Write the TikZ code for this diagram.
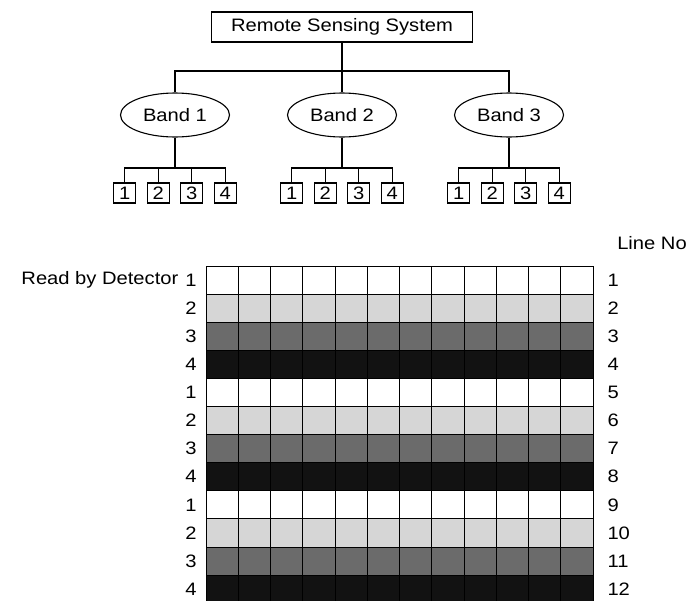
\documentclass[tikz,border=0pt]{standalone}
\usepackage{fontspec}
\setmainfont[FakeStretch=1.12]{Liberation Sans}
\usetikzlibrary{shapes.geometric, positioning, calc}

\colorlet{det1}{white}
\colorlet{det2}{black!16}
\colorlet{det3}{black!58}
\colorlet{det4}{black!93}

\begin{document}
\begin{tikzpicture}[
    x=1pt, y=-1pt,
    font=\fontsize{18}{21}\selectfont,
    sysbox/.style={rectangle, draw=black, line width=1.1pt, minimum width=261pt,
                   minimum height=30pt, inner sep=0pt},
    band/.style={ellipse, draw=black, line width=1.1pt, minimum width=109pt,
                 minimum height=44pt, inner sep=0pt},
    detbox/.style={rectangle, draw=black, line width=1.1pt, minimum width=22pt,
                   minimum height=20pt, inner sep=0pt},
    link/.style={draw=black, line width=1.1pt},
    cell/.style={draw=black, line width=1pt}
]
\useasboundingbox (0,0) rectangle (691,600);

% tree of bands and detectors
\node[sysbox] (rss) at (342,27) {Remote Sensing System};
\node[band] (b1) at (175,115) {Band 1};
\node[band] (b2) at (342,115) {Band 2};
\node[band] (b3) at (509,115) {Band 3};

\coordinate (split) at (342,71);
\draw[link] (rss.south) -- (split);
\draw[link] (b1.north) |- (split) -| (b3.north);
\draw[link] (split) -- (b2.north);

\foreach \b/\x in {1/175, 2/342, 3/509} {
  \foreach \d in {1,...,4}
    \node[detbox] (b\b d\d) at ({\x+(\d-2.5)*33.5},193) {\d};
  \coordinate (b\b s) at (b\b.south |- 0,168);
  \draw[link] (b\b.south) -- (b\b s);
  \draw[link] (b\b d1.north) |- (b\b s) -| (b\b d4.north);
  \draw[link] (b\b d2.north) -- (b\b d2.north |- b\b s);
  \draw[link] (b\b d3.north) -- (b\b d3.north |- b\b s);
}

% scan lines read by the detectors
\foreach \r in {1,...,12} {
  \pgfmathtruncatemacro\dn{mod(\r-1,4)+1}
  \foreach \c in {1,...,12}
    \draw[cell, fill=det\dn] ({206+(\c-1)*32.25},{266+(\r-1)*28.1}) rectangle ++(32.25,28.1);
  \node (dl\r) at (191,{266+(\r-0.5)*28.1}) {\dn};
  \node[anchor=west] (ln\r) at (604,{266+(\r-0.5)*28.1}) {\r};
}

\node[left=0pt of dl1] (readby) {Read by Detector};
\node (lineno) at (652,243) {Line No};
\end{tikzpicture}
\end{document}
